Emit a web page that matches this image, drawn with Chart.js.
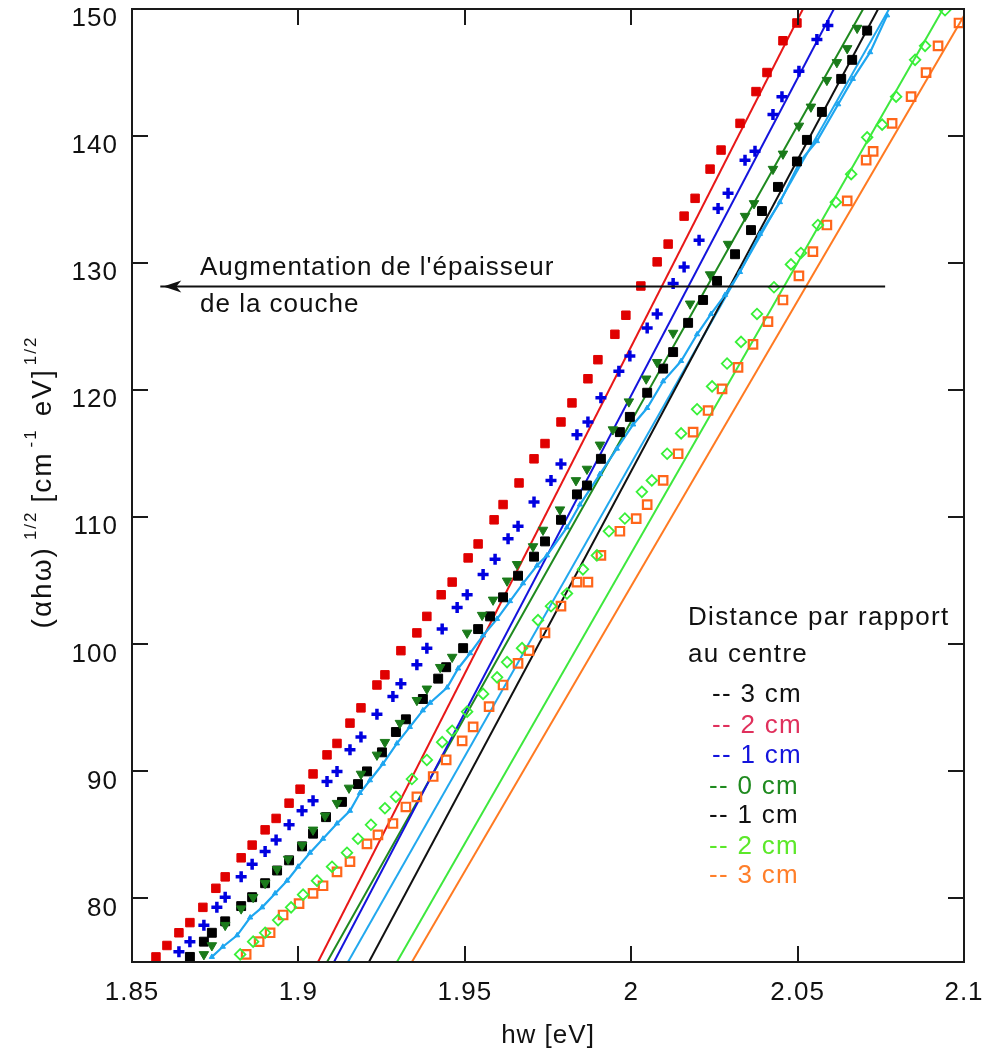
<!DOCTYPE html>
<html><head><meta charset="utf-8">
<script src="https://cdn.jsdelivr.net/npm/chart.js@4.4.1/dist/chart.umd.min.js"></script>
<style>html,body{margin:0;padding:0;background:#fff;}canvas{display:block;}</style>
</head><body>
<canvas id="c" width="982" height="1057"></canvas>
<script>
// ---------- axes ----------
const X_TICKS = [1.85, 1.9, 1.95, 2, 2.05, 2.1];
const X_TICK_LABELS = ['1.85', '1.9', '1.95', '2', '2.05', '2.1'];
const Y_TICKS = [80, 90, 100, 110, 120, 130, 140, 150];
const Y_TICK_LABELS = ['80', '90', '100', '110', '120', '130', '140', '150'];
const X_RANGE = [1.85, 2.1];
const Y_RANGE = [75, 150];

// ---------- measured points (markers) ----------
const RED_X = [1.8572,1.8605,1.8641,1.8674,1.8713,1.8752,1.8780,1.8828,1.8861,1.8900,1.8933,1.8972,1.9005,1.9044,1.9086,1.9116,1.9155,1.9188,1.9236,1.9260,1.9308,1.9356,1.9386,1.9429,1.9462,1.9510,1.9540,1.9588,1.9615,1.9663,1.9708,1.9741,1.9789,1.9822,1.9870,1.9900,1.9951,1.9984,2.0029,2.0078,2.0111,2.0159,2.0192,2.0237,2.0270,2.0327,2.0375,2.0408,2.0456,2.0498];
const RED_Y = [75.4,76.3,77.3,78.1,79.3,80.8,81.7,83.2,84.2,85.4,86.3,87.5,88.6,89.8,91.3,92.2,93.8,95.0,96.8,97.6,99.5,100.9,102.2,103.9,104.9,106.8,107.9,109.8,111.0,112.7,114.6,115.8,117.5,119.0,120.9,122.4,124.4,125.9,128.2,130.1,131.5,133.7,135.1,137.4,138.9,141.0,143.5,145.0,147.5,148.9];

const BLUE_X = [1.8641,1.8674,1.8716,1.8755,1.8780,1.8828,1.8861,1.8900,1.8933,1.8972,1.9011,1.9044,1.9086,1.9116,1.9155,1.9188,1.9236,1.9284,1.9308,1.9356,1.9386,1.9432,1.9477,1.9507,1.9555,1.9591,1.9630,1.9660,1.9708,1.9759,1.9789,1.9837,1.9870,1.9909,1.9963,1.9996,2.0048,2.0078,2.0126,2.0159,2.0204,2.0261,2.0291,2.0342,2.0372,2.0426,2.0453,2.0504,2.0558,2.0591];
const BLUE_Y = [75.8,76.6,77.9,79.3,80.1,81.7,82.7,83.7,84.6,85.8,86.9,87.7,89.2,90.0,91.7,92.7,94.5,95.9,96.9,98.4,99.7,101.2,102.9,103.9,105.5,106.7,108.3,109.3,111.2,112.9,114.2,116.5,117.5,119.4,121.5,122.7,124.9,126.0,128.4,129.7,131.8,134.3,135.5,138.1,138.8,141.7,143.1,145.1,147.6,148.7];

const GREEN_X = [1.8716,1.8740,1.8780,1.8828,1.8864,1.8900,1.8936,1.8969,1.9011,1.9044,1.9080,1.9116,1.9152,1.9188,1.9236,1.9260,1.9305,1.9356,1.9386,1.9426,1.9462,1.9507,1.9552,1.9585,1.9627,1.9657,1.9705,1.9735,1.9786,1.9834,1.9867,1.9906,1.9945,1.9993,2.0045,2.0078,2.0126,2.0177,2.0237,2.0291,2.0342,2.0369,2.0426,2.0456,2.0504,2.0540,2.0588,2.0618,2.0649,2.0679];
const GREEN_Y = [75.6,76.3,77.9,79.2,80.1,81.2,82.3,83.1,84.2,85.4,86.5,87.5,88.7,89.8,91.3,92.3,93.8,95.6,96.5,98.2,99.0,100.9,102.3,103.5,105.0,106.3,107.7,109.0,110.6,112.9,113.8,115.7,116.9,119.1,120.9,122.2,124.5,126.8,129.1,131.5,133.7,134.7,137.4,138.6,140.8,142.3,144.4,145.8,146.9,148.5];

const BLACK_X = [1.8674,1.8716,1.8740,1.8780,1.8828,1.8861,1.8900,1.8936,1.8972,1.9011,1.9044,1.9083,1.9131,1.9179,1.9206,1.9251,1.9293,1.9323,1.9374,1.9420,1.9444,1.9495,1.9540,1.9576,1.9615,1.9660,1.9708,1.9741,1.9789,1.9837,1.9867,1.9909,1.9966,1.9996,2.0048,2.0096,2.0126,2.0171,2.0216,2.0258,2.0312,2.0360,2.0393,2.0441,2.0498,2.0528,2.0573,2.0631,2.0664,2.0709];
const BLACK_Y = [75.4,76.6,77.3,78.2,79.4,80.1,81.2,82.2,83.0,84.1,85.1,86.4,87.6,89.0,90.0,91.5,93.1,94.1,95.7,97.3,98.2,99.7,101.2,102.2,103.7,105.4,106.9,108.1,109.8,111.8,112.5,114.6,116.7,117.9,119.8,121.7,123.0,125.3,127.1,128.6,130.7,132.6,134.1,136.0,138.0,139.7,141.9,144.5,146.0,148.3];

const CYAN_X = [1.8740,1.8773,1.8816,1.8855,1.8891,1.8930,1.8966,1.8999,1.9035,1.9074,1.9116,1.9155,1.9185,1.9215,1.9254,1.9296,1.9335,1.9374,1.9396,1.9447,1.9480,1.9516,1.9555,1.9597,1.9636,1.9675,1.9717,1.9747,1.9807,1.9846,1.9906,1.9957,2.0006,2.0048,2.0096,2.0150,2.0198,2.0240,2.0282,2.0327,2.0387,2.0447,2.0507,2.0558,2.0622,2.0666,2.0718,2.0769];
const CYAN_Y = [75.4,76.2,77.1,78.5,79.3,80.4,81.4,82.5,83.6,84.7,85.9,86.9,88.3,89.3,90.6,92.2,93.5,94.8,95.4,96.6,98.1,99.3,100.7,102.0,103.4,104.8,106.2,107.0,109.2,111.0,113.4,115.4,117.3,118.6,120.7,122.3,124.4,126.0,127.5,129.3,132.3,134.8,138.0,139.6,142.5,144.5,146.6,149.5];

const LIME_X = [1.8825,1.8864,1.8900,1.8939,1.8978,1.9014,1.9056,1.9101,1.9146,1.9179,1.9218,1.9260,1.9293,1.9341,1.9386,1.9432,1.9462,1.9507,1.9555,1.9597,1.9627,1.9672,1.9720,1.9759,1.9807,1.9855,1.9897,1.9933,1.9981,2.0032,2.0062,2.0108,2.0150,2.0198,2.0243,2.0288,2.0330,2.0378,2.0429,2.0480,2.0510,2.0561,2.0615,2.0661,2.0709,2.0754,2.0796,2.0853,2.0883,2.0943];
const LIME_Y = [75.6,76.6,77.3,78.3,79.3,80.3,81.4,82.5,83.6,84.7,85.8,87.1,88.0,89.4,90.9,92.3,93.2,94.7,96.1,97.4,98.6,99.7,101.9,103.0,104.0,105.9,107.0,108.9,109.9,112.0,112.9,115.0,116.6,118.5,120.3,122.1,123.8,126.0,128.1,129.9,130.8,133.0,134.8,137.0,139.9,140.9,143.1,146.0,147.1,149.9];

const ORANGE_X = [1.8843,1.8882,1.8915,1.8954,1.9002,1.9044,1.9074,1.9116,1.9155,1.9206,1.9239,1.9284,1.9323,1.9356,1.9405,1.9444,1.9492,1.9525,1.9573,1.9615,1.9660,1.9693,1.9741,1.9789,1.9837,1.9870,1.9909,1.9966,2.0015,2.0048,2.0096,2.0141,2.0186,2.0231,2.0273,2.0321,2.0366,2.0411,2.0456,2.0504,2.0546,2.0588,2.0649,2.0706,2.0727,2.0784,2.0841,2.0886,2.0922,2.0985];
const ORANGE_Y = [75.6,76.6,77.3,78.7,79.6,80.4,81.0,82.1,82.9,84.3,85.0,85.9,87.2,88.0,89.6,90.9,92.4,93.5,95.1,96.8,98.5,99.5,100.9,103.0,104.9,104.9,107.0,108.9,109.9,111.0,112.9,115.0,116.7,118.4,120.1,121.8,123.6,125.4,127.1,129.0,130.9,133.0,134.9,138.1,138.8,141.0,143.1,145.0,147.1,148.9];

// ---------- straight (linear) lines: red, blue, green, black, cyan, lime, orange ----------
const FIT_X_START = [1.9059, 1.9107, 1.9086, 1.9212, 1.9149, 1.9296, 1.9341];
const FIT_X_END   = [2.0516, 2.0609, 2.0697, 2.0742, 2.0775, 2.0937, 2.1012];
const FIT_Y_START = 75;
const FIT_Y_END = 150;

// ---------- texts ----------
const LEGEND_TITLE = ['Distance par rapport', 'au centre'];
const LEGEND_ITEMS = ['-- 3 cm', '-- 2 cm', '-- 1 cm', '-- 0 cm', '-- 1 cm', '-- 2 cm', '-- 3 cm'];
const ANNOTATION_LINES = ["Augmentation de l'épaisseur", 'de la couche'];
const ARROW_FROM_X = 2.0763, ARROW_TO_X = 1.8585, ARROW_Y = 128.2;
const X_TITLE = 'hw [eV]';

// ---------- styling ----------
const FONT = '"Liberation Sans", Arial, sans-serif';
const LINE_COLORS = ['#e81818', '#1414dc', '#1f8a1f', '#111111', '#22a8ee', '#3ee83e', '#ff7a22'];
const LEGEND_COLORS = ['#111111', '#e0305c', '#1414dc', '#1f8a1f', '#111111', '#5ce82a', '#ff7f2a'];

const zip = (xs, ys) => xs.slice(0, Math.min(xs.length, ys.length)).map((x, i) => ({x, y: ys[i]}));

const markerSets = [
  {label: 'red', data: zip(RED_X, RED_Y), pointStyle: 'rect', pointRadius: 6, pointBackgroundColor: '#e00000', pointBorderColor: '#e00000', pointBorderWidth: 1},
  {label: 'blue', data: zip(BLUE_X, BLUE_Y), pointStyle: 'cross', pointRadius: 5.5, pointBackgroundColor: '#0000e0', pointBorderColor: '#0000e0', pointBorderWidth: 3.5},
  {label: 'green', data: zip(GREEN_X, GREEN_Y), pointStyle: 'triangle', pointRotation: 180, pointRadius: 5.5, pointBackgroundColor: '#1a7a1a', pointBorderColor: '#1a7a1a', pointBorderWidth: 1},
  {label: 'black', data: zip(BLACK_X, BLACK_Y), pointStyle: 'rect', pointRadius: 6.3, pointBackgroundColor: '#000', pointBorderColor: '#000', pointBorderWidth: 1},
  {label: 'cyan', data: zip(CYAN_X, CYAN_Y), showLine: true, pointStyle: 'triangle', pointRadius: 3, pointBackgroundColor: '#1ea6f0', pointBorderColor: '#1ea6f0', borderColor: '#1ea6f0', borderWidth: 2.2, pointBorderWidth: 1},
  {label: 'lime', data: zip(LIME_X, LIME_Y), pointStyle: 'rectRot', pointRadius: 5.3, pointBackgroundColor: 'rgba(0,0,0,0)', pointBorderColor: '#38f038', pointBorderWidth: 1.8},
  {label: 'orange', data: zip(ORANGE_X, ORANGE_Y), pointStyle: 'rect', pointRadius: 6, pointBackgroundColor: 'rgba(0,0,0,0)', pointBorderColor: '#ff661a', pointBorderWidth: 2.2}
];
const fitSets = FIT_X_START.map((x0, i) => ({
  label: 'fit ' + i,
  data: [{x: x0, y: FIT_Y_START}, {x: FIT_X_END[i], y: FIT_Y_END}],
  showLine: true, pointRadius: 0, borderColor: LINE_COLORS[i], borderWidth: 2, backgroundColor: LINE_COLORS[i]
}));

const overlay = {
  id: 'overlay',
  beforeDraw(chart) { chart.ctx.letterSpacing = '1px'; },
  afterDraw(chart) {
    const {ctx, chartArea: a, scales: {x, y}} = chart;
    ctx.save();
    ctx.letterSpacing = '1px';
    // inner ticks
    ctx.strokeStyle = '#1a1a1a';
    ctx.lineWidth = 2;
    const T = 16;
    ctx.beginPath();
    X_TICKS.forEach(v => {
      const px = Math.round(x.getPixelForValue(v));
      ctx.moveTo(px, a.bottom); ctx.lineTo(px, a.bottom - T);
      ctx.moveTo(px, a.top); ctx.lineTo(px, a.top + T);
    });
    Y_TICKS.forEach(v => {
      const py = Math.round(y.getPixelForValue(v));
      ctx.moveTo(a.left, py); ctx.lineTo(a.left + T, py);
      ctx.moveTo(a.right, py); ctx.lineTo(a.right - T, py);
    });
    ctx.stroke();
    // frame
    ctx.strokeRect(a.left, a.top, a.right - a.left, a.bottom - a.top);

    // arrow
    const ay = Math.round(y.getPixelForValue(ARROW_Y)) + 0.5;
    const ax0 = x.getPixelForValue(ARROW_FROM_X), ax1 = x.getPixelForValue(ARROW_TO_X);
    ctx.strokeStyle = '#111'; ctx.lineWidth = 2;
    ctx.beginPath(); ctx.moveTo(ax0, ay); ctx.lineTo(ax1, ay); ctx.stroke();
    ctx.fillStyle = '#111';
    ctx.beginPath();
    ctx.moveTo(ax1 + 3, ay);
    ctx.lineTo(ax1 + 21, ay - 6);
    ctx.lineTo(ax1 + 16, ay);
    ctx.lineTo(ax1 + 21, ay + 6);
    ctx.closePath(); ctx.fill();

    // annotation text
    ctx.font = '26px ' + FONT;
    ctx.textBaseline = 'alphabetic';
    ctx.textAlign = 'left';
    ctx.fillStyle = '#111';
    ctx.fillText(ANNOTATION_LINES[0], 200, ay - 12);
    ctx.fillText(ANNOTATION_LINES[1], 200, ay + 25);

    // legend text
    ctx.letterSpacing = '1.3px';
    ctx.fillText(LEGEND_TITLE[0], 688, 625);
    ctx.fillText(LEGEND_TITLE[1], 688, 662);
    const legY = [702, 733, 763, 794, 823, 854, 883];
    const legX = [712, 712, 712, 709, 709, 709, 709];
    LEGEND_ITEMS.forEach((t, i) => {
      ctx.fillStyle = LEGEND_COLORS[i];
      ctx.fillText(t, legX[i], legY[i]);
    });

    // y-axis title (rotated, with superscripts)
    ctx.letterSpacing = '2px';
    const parts = [
      ['(\u03b1h\u03c9)', 0, 0], ['1/2', 1, 6], ['[cm', 0, 8], ['-1', 1, 4], ['eV]', 0, 12], ['1/2', 1, 3]
    ];
    const mainF = '28px ' + FONT, supF = '17px ' + FONT;
    let total = 0;
    parts.forEach(([t, s, g]) => { ctx.font = s ? supF : mainF; total += ctx.measureText(t).width + g; });
    ctx.translate(51, 482);
    ctx.rotate(-Math.PI / 2);
    ctx.fillStyle = '#111';
    let cx = -total / 2;
    parts.forEach(([t, s, g]) => {
      ctx.font = s ? supF : mainF;
      cx += g;
      ctx.fillText(t, cx, s ? -15 : 0);
      cx += ctx.measureText(t).width;
    });
    ctx.restore();
  }
};

Chart.defaults.font.family = FONT;
Chart.defaults.font.size = 26;
Chart.defaults.color = '#111';

new Chart(document.getElementById('c'), {
  type: 'scatter',
  data: {datasets: [...markerSets, ...fitSets]},
  options: {
    responsive: false,
    animation: false,
    devicePixelRatio: 1,
    layout: {padding: {top: 7, right: 18, left: 0, bottom: 0}},
    plugins: {legend: {display: false}, tooltip: {enabled: false}},
    elements: {line: {tension: 0}},
    scales: {
      x: {
        type: 'linear', min: X_RANGE[0], max: X_RANGE[1],
        grid: {display: false, drawTicks: false}, border: {display: false},
        afterBuildTicks: s => { s.ticks = X_TICKS.map(v => ({value: v})); },
        afterFit: s => { s.height = 95; s.paddingLeft = 0; s.paddingRight = 0; },
        ticks: {padding: 15, maxRotation: 0, autoSkip: false, color: '#111', font: {size: 26},
                callback: (v, i) => X_TICK_LABELS[i]},
        title: {display: true, text: X_TITLE, color: '#111', font: {size: 26}, padding: {top: 0, bottom: 6}}
      },
      y: {
        type: 'linear', min: Y_RANGE[0], max: Y_RANGE[1],
        grid: {display: false, drawTicks: false}, border: {display: false},
        afterBuildTicks: s => { s.ticks = Y_TICKS.map(v => ({value: v})); },
        afterFit: s => { s.width = 132; s.paddingTop = 0; s.paddingBottom = 0; },
        ticks: {padding: 14, labelOffset: 10, autoSkip: false, color: '#111', font: {size: 26},
                callback: (v, i) => Y_TICK_LABELS[i]}
      }
    }
  },
  plugins: [overlay]
});
</script>
</body></html>
